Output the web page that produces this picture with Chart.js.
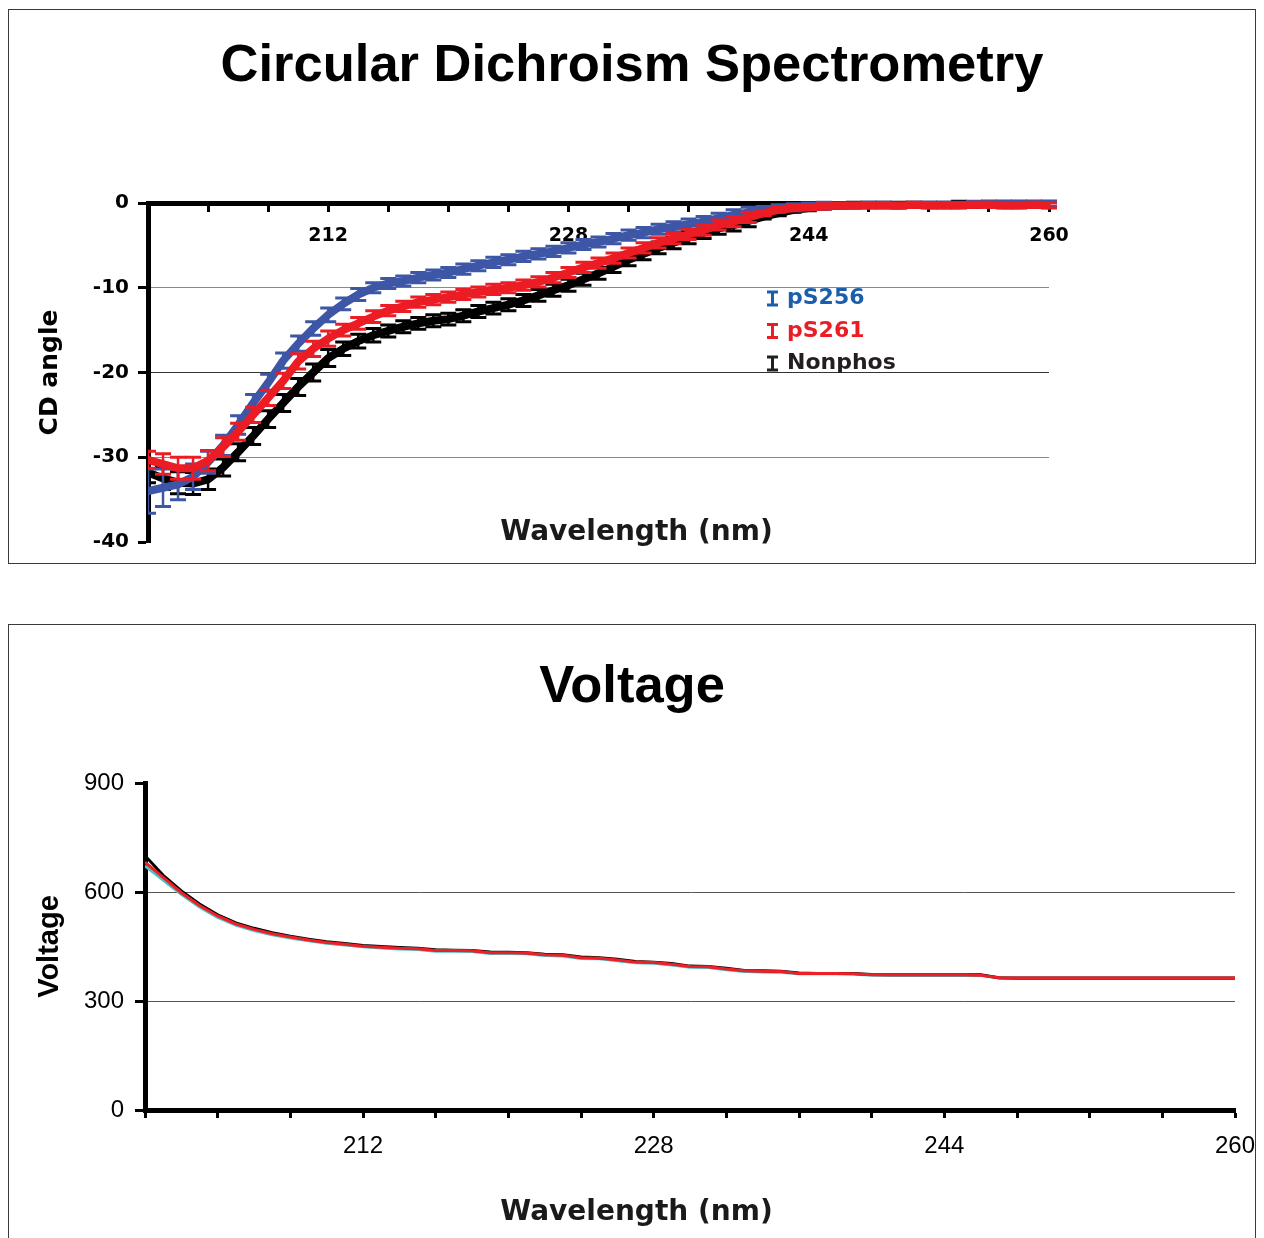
<!DOCTYPE html>
<html>
<head>
<meta charset="utf-8">
<script src="https://cdn.jsdelivr.net/npm/chart.js@4.4.1/dist/chart.umd.min.js"></script>
<style>
  html, body { margin: 0; padding: 0; background: #fff; overflow: hidden; }
  body { width: 1264px; height: 1238px; position: relative; }
  .panel { position: absolute; left: 8px; width: 1246px; border: 1px solid #3a3a3a; background: #fff; }
  #cdPanel { top: 9px; height: 553px; }
  #voltPanel { top: 624px; height: 640px; }
  .panel canvas { position: absolute; left: 0; top: 0; }
  .heading { position: absolute; left: 0; width: 100%; text-align: center; margin: 0;
             font-family: 'Liberation Sans', Arial, sans-serif; font-weight: bold;
             font-size: 52.5px; line-height: 60px; color: #000; }
</style>
</head>
<body>
<div class="panel" id="cdPanel">
  <div class="heading" style="top:23px">Circular Dichroism Spectrometry</div>
  <canvas id="cdChart" width="1246" height="553"></canvas>
</div>
<div class="panel" id="voltPanel">
  <div class="heading" style="top:29px">Voltage</div>
  <canvas id="voltChart" width="1246" height="613"></canvas>
</div>

<script>
// Wavelengths (nm) of each recorded point
const wavelengths = [200, 201, 202, 203, 204, 205, 206, 207, 208, 209, 210, 211, 212, 213, 214, 215, 216, 217, 218, 219, 220,
                     221, 222, 223, 224, 225, 226, 227, 228, 229, 230, 231, 232, 233, 234, 235, 236, 237, 238, 239, 240,
                     241, 242, 243, 244, 245, 246, 247, 248, 249, 250, 251, 252, 253, 254, 255, 256, 257, 258, 259, 260];

// Labelled wavelengths on both x axes
const wavelengthLabels = [212, 228, 244, 260];

// CD angle (mean) and error for each peptide
const cdPS256 = [-34.0, -33.6, -33.2, -32.3, -30.6, -28.6, -26.2, -23.6, -21.2, -18.6, -16.6, -14.8, -13.2, -11.9, -10.8, -10.0,
                 -9.5, -9.2, -8.8, -8.5, -8.2, -7.8, -7.4, -7.0, -6.7, -6.3, -6.0, -5.7, -5.3, -4.9, -4.6, -4.2, -3.8, -3.5,
                 -3.1, -2.8, -2.5, -2.2, -1.8, -1.4, -1.1, -0.8, -0.6, -0.5, -0.4, -0.3, -0.3, -0.3, -0.2, -0.2, -0.3, -0.2,
                 -0.2, -0.2, -0.2, -0.1, -0.1, -0.1, -0.1, -0.1, -0.1];
const cdPS256Err = [2.6, 2.2, 1.8, 1.5, 1.3, 1.2, 1.1, 1.0, 1.0, 0.9, 0.9, 0.8, 0.8, 0.7, 0.7, 0.6, 0.6, 0.6, 0.6, 0.6, 0.6,
                    0.6, 0.6, 0.6, 0.6, 0.6, 0.6, 0.6, 0.6, 0.6, 0.6, 0.6, 0.6, 0.6, 0.6, 0.6, 0.6, 0.6, 0.6, 0.6, 0.6,
                    0.4, 0.4, 0.4, 0.4, 0.4, 0.3, 0.3, 0.3, 0.3, 0.3, 0.3, 0.3, 0.3, 0.3, 0.3, 0.3, 0.3, 0.3, 0.3, 0.3];

const cdPS261 = [-30.3, -30.8, -31.3, -31.3, -30.4, -28.8, -27.0, -25.0, -23.0, -21.0, -18.7, -17.2, -16.0, -15.0, -14.2, -13.4,
                 -12.7, -12.2, -11.7, -11.4, -11.1, -10.8, -10.5, -10.2, -10.0, -9.7, -9.3, -8.8, -8.2, -7.6, -7.1, -6.5,
                 -5.9, -5.3, -4.7, -4.2, -3.7, -3.2, -2.6, -2.2, -1.7, -1.2, -0.8, -0.6, -0.5, -0.4, -0.3, -0.3, -0.3,
                 -0.3, -0.3, -0.2, -0.3, -0.3, -0.3, -0.2, -0.2, -0.3, -0.3, -0.2, -0.3];
const cdPS261Err = [1.0, 1.2, 1.3, 1.3, 1.2, 1.1, 1.0, 0.9, 0.9, 0.9, 0.9, 0.9, 0.9, 0.7, 0.7, 0.7, 0.6, 0.6, 0.6, 0.6, 0.6,
                    0.6, 0.6, 0.6, 0.6, 0.6, 0.6, 0.6, 0.6, 0.6, 0.6, 0.6, 0.6, 0.6, 0.6, 0.6, 0.6, 0.6, 0.6, 0.6, 0.6,
                    0.3, 0.3, 0.3, 0.3, 0.3, 0.3, 0.3, 0.3, 0.3, 0.3, 0.3, 0.3, 0.3, 0.3, 0.3, 0.3, 0.3, 0.3, 0.3, 0.3];

const cdNonphos = [-31.8, -32.5, -33.0, -33.1, -32.6, -31.2, -29.4, -27.5, -25.5, -23.6, -21.7, -20.0, -18.3, -17.2, -16.3,
                   -15.6, -15.1, -14.6, -14.2, -13.9, -13.7, -13.3, -12.8, -12.4, -12.0, -11.5, -10.9, -10.3, -9.7, -9.0,
                   -8.3, -7.5, -6.7, -6.0, -5.3, -4.7, -4.1, -3.5, -3.0, -2.6, -2.1, -1.6, -1.2, -0.8, -0.6, -0.4, -0.3,
                   -0.2, -0.2, -0.2, -0.2, -0.2, -0.2, -0.2, -0.1, -0.2, -0.1, -0.1, -0.1, -0.1, -0.1];
const cdNonphosErr = [1.2, 1.3, 1.3, 1.3, 1.2, 1.0, 1.0, 1.0, 1.0, 1.0, 1.0, 1.0, 1.0, 0.8, 0.8, 0.8, 0.7, 0.7, 0.7, 0.7, 0.7,
                      0.7, 0.7, 0.7, 0.7, 0.7, 0.7, 0.7, 0.7, 0.7, 0.7, 0.7, 0.7, 0.7, 0.7, 0.7, 0.7, 0.7, 0.7, 0.7, 0.7,
                      0.3, 0.3, 0.3, 0.3, 0.3, 0.3, 0.3, 0.3, 0.3, 0.3, 0.3, 0.3, 0.3, 0.3, 0.3, 0.3, 0.3, 0.3, 0.3, 0.3];

// Photomultiplier voltage recorded with each scan
const voltNonphos = [700, 646, 603, 567, 537, 515, 500, 488, 478, 470, 463, 458, 453, 450, 447, 445, 441, 440, 439, 435, 434,
                     433, 429, 427, 421, 419, 415, 409, 407, 403, 396, 395, 390, 384, 383, 382, 377, 376, 376, 376, 373,
                     372, 372, 372, 372, 372, 372, 364, 363, 363, 363, 363, 363, 363, 363, 363, 363, 363, 363, 363, 363];
const voltPS256 = [672, 633, 594, 559, 530, 509, 494, 482, 473, 466, 459, 454, 449, 446, 443, 442, 437, 437, 436, 431, 431,
                   430, 425, 424, 417, 416, 411, 405, 404, 399, 393, 392, 386, 381, 380, 379, 375, 375, 375, 374, 371,
                   371, 371, 371, 371, 371, 371, 363, 362, 362, 362, 362, 362, 362, 362, 362, 362, 362, 362, 362, 362];
const voltPS261 = [682, 640, 598, 563, 534, 512, 497, 485, 476, 468, 461, 456, 451, 448, 445, 444, 439, 439, 438, 433, 433,
                   432, 427, 426, 419, 418, 413, 407, 406, 401, 395, 394, 388, 383, 382, 381, 376, 376, 376, 375, 372,
                   372, 372, 372, 372, 372, 371, 364, 363, 363, 363, 363, 363, 363, 363, 363, 363, 363, 363, 363, 363];

const cdTickValues = [0, -10, -20, -30, -40];
const voltTickValues = [0, 300, 600, 900];

const toPoints = (ys) => wavelengths.map((w, i) => ({ x: w, y: ys[i] }));
const wavelengthTick = (v) => (wavelengthLabels.includes(v) ? String(v) : '');

// Vertical error bars with caps, drawn through the chart scales
const errorBarPlugin = {
  id: 'errorBars',
  afterDatasetDraw(chart, args, opts) {
    const ds = chart.data.datasets[args.index];
    if (!ds.errors) return;
    const { ctx, chartArea } = chart;
    const xs = chart.scales.x, ys = chart.scales.y;
    ctx.save();
    ctx.beginPath();
    ctx.rect(chartArea.left, chartArea.top - 6, chartArea.right - chartArea.left + 10, chartArea.bottom - chartArea.top + 6);
    ctx.clip();
    ctx.strokeStyle = ds.borderColor;
    ds.data.forEach((p, i) => {
      const px = xs.getPixelForValue(p.x);
      const top = ys.getPixelForValue(p.y + ds.errors[i]);
      const bot = ys.getPixelForValue(p.y - ds.errors[i]);
      ctx.lineWidth = opts.stemWidth;
      ctx.beginPath();
      ctx.moveTo(px, top);
      ctx.lineTo(px, bot);
      ctx.stroke();
      ctx.lineWidth = opts.capWidth;
      ctx.beginPath();
      ctx.moveTo(px - opts.capHalf, top);
      ctx.lineTo(px + opts.capHalf, top);
      ctx.moveTo(px - opts.capHalf, bot);
      ctx.lineTo(px + opts.capHalf, bot);
      ctx.stroke();
    });
    ctx.restore();
  }
};

// Series key with error-bar symbols, placed inside the plot
const cdKeyPlugin = {
  id: 'cdKey',
  afterDraw(chart, args, opts) {
    const { ctx, chartArea } = chart;
    const mx = chartArea.left + opts.markerOffset;
    const tx = chartArea.left + opts.textOffset;
    ctx.save();
    opts.items.forEach((item, i) => {
      const cy = chartArea.top + opts.firstRow + i * opts.rowGap;
      ctx.strokeStyle = item.color;
      ctx.lineWidth = 3;
      ctx.beginPath();
      ctx.moveTo(mx, cy - 6.5); ctx.lineTo(mx, cy + 6.5);
      ctx.moveTo(mx - 5.5, cy - 6.5); ctx.lineTo(mx + 5.5, cy - 6.5);
      ctx.moveTo(mx - 5.5, cy + 6.5); ctx.lineTo(mx + 5.5, cy + 6.5);
      ctx.stroke();
      ctx.fillStyle = item.color;
      ctx.font = 'bold 22px "DejaVu Sans"';
      ctx.textAlign = 'left';
      ctx.textBaseline = 'middle';
      ctx.fillText(item.text, tx, cy);
    });
    ctx.restore();
  }
};

// Axis caption centred on the panel rather than on the plot area
const captionPlugin = {
  id: 'caption',
  afterDraw(chart, args, opts) {
    const { ctx } = chart;
    ctx.save();
    ctx.font = opts.font;
    ctx.fillStyle = opts.color;
    ctx.textAlign = 'center';
    ctx.textBaseline = 'middle';
    ctx.fillText(opts.text, opts.x, opts.y);
    ctx.restore();
  }
};

const cdFont = (size) => ({ family: 'DejaVu Sans', size: size, weight: 'bold' });

new Chart(document.getElementById('cdChart'), {
  type: 'line',
  data: {
    datasets: [
      { label: 'pS256', data: toPoints(cdPS256), errors: cdPS256Err, borderColor: '#3d56a6', borderWidth: 8, pointRadius: 0, order: 1 },
      { label: 'pS261', data: toPoints(cdPS261), errors: cdPS261Err, borderColor: '#ec1c24', borderWidth: 8, pointRadius: 0, order: 0 },
      { label: 'Nonphos', data: toPoints(cdNonphos), errors: cdNonphosErr, borderColor: '#000000', borderWidth: 8, pointRadius: 0, order: 2 }
    ]
  },
  options: {
    responsive: false,
    animation: false,
    events: [],
    layout: { padding: { left: 0, right: 206, top: 193, bottom: 21 } },
    scales: {
      x: {
        type: 'linear',
        position: { y: 0 },
        min: 200, max: 260,
        border: { display: true, color: '#000', width: 5 },
        grid: { drawOnChartArea: false, drawTicks: true, tickLength: 6, tickWidth: 3, tickColor: '#000' },
        ticks: { stepSize: 4, autoSkip: false, maxRotation: 0, padding: 16, color: '#000', font: cdFont(19), callback: wavelengthTick }
      },
      y: {
        type: 'linear',
        position: 'left',
        min: -40, max: 0,
        afterFit: (s) => { s.width = 139; },
        afterBuildTicks: (s) => { s.ticks = cdTickValues.map((v) => ({ value: v })); },
        border: { display: true, color: '#000', width: 5 },
        grid: {
          color: (c) => (c.tick && c.tick.value === -20 ? '#333' : (c.tick && (c.tick.value === -10 || c.tick.value === -30) ? '#8a8a8a' : 'rgba(0,0,0,0)')),
          lineWidth: 1, tickLength: 10, tickWidth: 3, tickColor: '#000'
        },
        ticks: { padding: 9, color: '#000', font: cdFont(20) },
        title: { display: true, text: 'CD angle', color: '#000', font: cdFont(25), padding: { top: 26, bottom: 0 } }
      }
    },
    plugins: {
      legend: { display: false },
      tooltip: { enabled: false },
      errorBars: { stemWidth: 2.5, capWidth: 3, capHalf: 8 },
      caption: { text: 'Wavelength (nm)', font: 'bold 28px "DejaVu Sans"', color: '#1a1a1a', x: 627.5, y: 523 },
      cdKey: {
        markerOffset: 624.5, textOffset: 639, firstRow: 95.5, rowGap: 32.5,
        items: [
          { text: 'pS256', color: '#1b5eac' },
          { text: 'pS261', color: '#ec1c24' },
          { text: 'Nonphos', color: '#231f20' }
        ]
      }
    }
  },
  plugins: [errorBarPlugin, cdKeyPlugin, captionPlugin]
});

new Chart(document.getElementById('voltChart'), {
  type: 'line',
  data: {
    datasets: [
      { label: 'pS261', data: toPoints(voltPS261), borderColor: '#ee1f26', borderWidth: 3, pointRadius: 0, order: 0 },
      { label: 'Nonphos', data: toPoints(voltNonphos), borderColor: '#000000', borderWidth: 3, pointRadius: 0, order: 1 },
      { label: 'pS256', data: toPoints(voltPS256), borderColor: '#4cc3c8', borderWidth: 3, pointRadius: 0, order: 2 }
    ]
  },
  options: {
    responsive: false,
    animation: false,
    events: [],
    layout: { padding: { left: 0, right: 20, top: 158, bottom: 0 } },
    scales: {
      x: {
        type: 'linear',
        position: 'bottom',
        min: 200, max: 260,
        afterFit: (s) => { s.height = 128; s.paddingRight = 0; s.paddingLeft = 0; },
        border: { display: true, color: '#000', width: 5 },
        grid: { drawOnChartArea: false, drawTicks: true, tickLength: 8, tickWidth: 3, tickColor: '#000' },
        ticks: { stepSize: 4, autoSkip: false, maxRotation: 0, padding: 14, color: '#000',
                 font: { family: 'Liberation Sans', size: 24 }, callback: wavelengthTick }
      },
      y: {
        type: 'linear',
        position: 'left',
        min: 0, max: 900,
        afterFit: (s) => { s.width = 136; },
        afterBuildTicks: (s) => { s.ticks = voltTickValues.map((v) => ({ value: v })); },
        border: { display: true, color: '#000', width: 5 },
        grid: {
          color: (c) => (c.tick && (c.tick.value === 300 || c.tick.value === 600) ? '#555' : 'rgba(0,0,0,0)'),
          lineWidth: 1, tickLength: 10, tickWidth: 3, tickColor: '#000'
        },
        ticks: { padding: 11, color: '#000', font: { family: 'Liberation Sans', size: 24 } },
        title: { display: true, text: 'Voltage', color: '#000', font: { family: 'Liberation Sans', size: 29, weight: 'bold' }, padding: { top: 24, bottom: 0 } }
      }
    },
    plugins: {
      legend: { display: false },
      tooltip: { enabled: false },
      caption: { text: 'Wavelength (nm)', font: 'bold 28px "DejaVu Sans"', color: '#1a1a1a', x: 627.5, y: 588 }
    }
  },
  plugins: [captionPlugin]
});
</script>
</body>
</html>
